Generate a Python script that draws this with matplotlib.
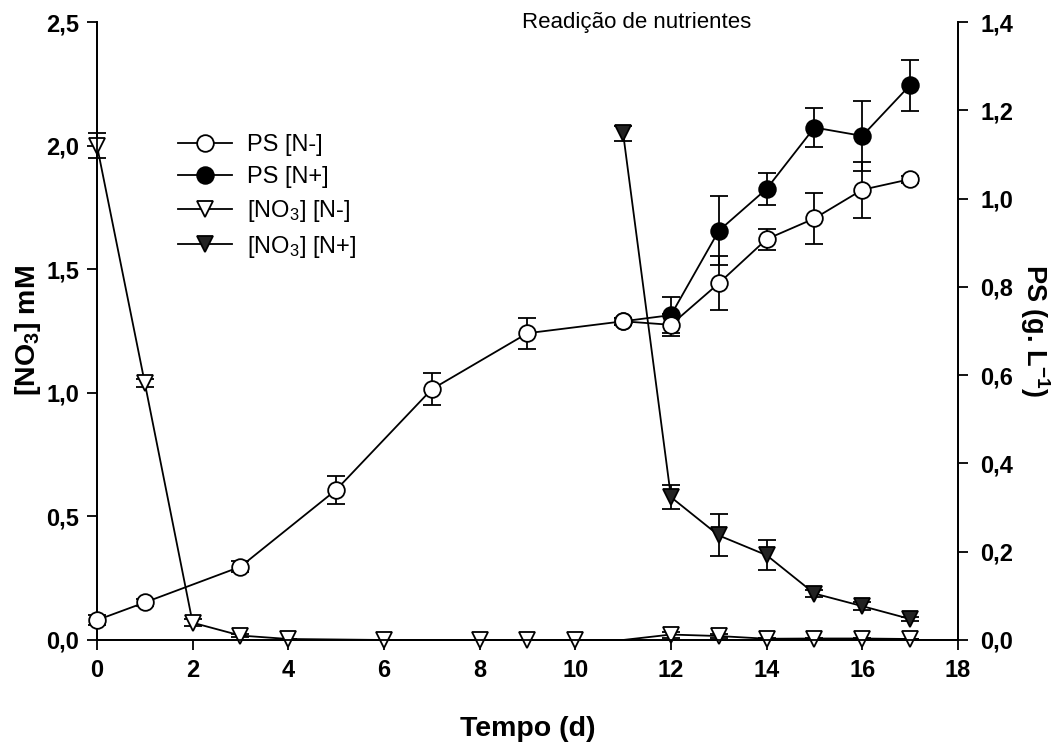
import matplotlib.pyplot as plt
from matplotlib.ticker import FuncFormatter

plt.rcParams['font.family'] = ['Liberation Sans', 'DejaVu Sans']
plt.rcParams['mathtext.default'] = 'regular'

# PS (g/L), right axis
dias_ps = [0, 1, 3, 5, 7, 9, 11, 12, 13, 14, 15, 16, 17]
ps_nmenos = [0.045, 0.085, 0.166, 0.34, 0.568, 0.695, 0.722, 0.714, 0.808, 0.908, 0.955, 1.02, 1.044]
ps_nmenos_err = [0.012, 0.008, 0.012, 0.032, 0.036, 0.035, 0.008, 0.025, 0.061, 0.024, 0.057, 0.063, 0.008]

dias_ps_mais = [11, 12, 13, 14, 15, 16, 17]
ps_nmais = [0.722, 0.736, 0.927, 1.022, 1.161, 1.142, 1.257]
ps_nmais_err = [0.008, 0.04, 0.078, 0.036, 0.045, 0.079, 0.058]

# [NO3] mM, left axis
dias_no3 = [0, 1, 2, 3, 4, 6, 8, 9, 10, 11, 12, 13, 14, 15, 16, 17]
no3_nmenos = [2.0, 1.04, 0.07, 0.018, 0.004, 0.0, 0.0, 0.0, 0.0, 0.0, 0.022, 0.016, 0.005, 0.006, 0.006, 0.004]
no3_nmenos_err = [0.05, 0.015, 0.015, 0.005, 0.002, 0, 0, 0, 0, 0, 0.012, 0.008, 0.003, 0.003, 0.003, 0.002]

dias_no3_mais = [11, 12, 13, 14, 15, 16, 17]
no3_nmais = [2.05, 0.578, 0.423, 0.343, 0.188, 0.137, 0.085]
no3_nmais_err = [0.03, 0.05, 0.085, 0.06, 0.015, 0.015, 0.01]

fig = plt.figure(figsize=(10.62, 7.44), dpi=100)
ax = fig.add_axes([0.0913, 0.1398, 0.8107, 0.8306])
ax2 = ax.twinx()

eb = dict(color='black', lw=1.3, capsize=6.5, capthick=1.3, elinewidth=1.3)


def sem_clip(res):
    for art in [res[0]] + list(res[1]) + list(res[2]):
        art.set_clip_on(False)


# nitrate on the left axis
sem_clip(ax.errorbar(dias_no3, no3_nmenos, yerr=no3_nmenos_err, marker='v', ms=11,
                     mfc='white', mec='black', mew=1.3,
                     markevery=[i for i in range(len(dias_no3)) if dias_no3[i] != 11],
                     zorder=3, **eb))
sem_clip(ax.errorbar(dias_no3_mais, no3_nmais, yerr=no3_nmais_err, marker='v', ms=11,
                     mfc='#222222', mec='black', mew=1.3, zorder=3, **eb))

# dry weight on the right axis
sem_clip(ax2.errorbar(dias_ps_mais, ps_nmais, yerr=ps_nmais_err, marker='o', ms=12,
                      mfc='black', mec='black', mew=1.3, zorder=3, **eb))
sem_clip(ax2.errorbar(dias_ps, ps_nmenos, yerr=ps_nmenos_err, marker='o', ms=12,
                      mfc='white', mec='black', mew=1.3, zorder=4, **eb))

ax.set_xlim(0, 18)
ax.set_ylim(0, 2.5)
ax2.set_ylim(0, 1.4)
ax.set_xticks(range(0, 19, 2))
ax.set_yticks([0, 0.5, 1.0, 1.5, 2.0, 2.5])
ax2.set_yticks([0, 0.2, 0.4, 0.6, 0.8, 1.0, 1.2, 1.4])

virgula = FuncFormatter(lambda v, p: ('%.1f' % v).replace('.', ','))
ax.yaxis.set_major_formatter(virgula)
ax2.yaxis.set_major_formatter(virgula)

for a in (ax, ax2):
    a.spines['top'].set_visible(False)
    for s in a.spines.values():
        s.set_linewidth(1.3)
    a.tick_params(direction='out', length=7, width=1.3, labelsize=17, pad=6)
    for lab in a.get_xticklabels() + a.get_yticklabels():
        lab.set_fontweight('bold')
ax.tick_params(axis='x', pad=7)
ax2.tick_params(axis='y', pad=9)

ax.set_xlabel('Tempo (d)', fontsize=20.5, fontweight='bold', labelpad=24)
ax.set_ylabel('[NO$_3$] mM', fontsize=20.5, fontweight='bold', labelpad=2)
ax2.set_ylabel('PS (g. L$^{-1}$)', fontsize=19.5, fontweight='bold', rotation=270, labelpad=28)

ax.text(11.28, 2.50, 'Readição de nutrientes', fontsize=16, ha='center', va='center',
        clip_on=False)

# legend
h1 = ax.errorbar([], [], marker='o', ms=12, mfc='white', mec='black', mew=1.3, color='black', lw=1.3)
h2 = ax.errorbar([], [], marker='o', ms=12, mfc='black', mec='black', mew=1.3, color='black', lw=1.3)
h3 = ax.errorbar([], [], marker='v', ms=11, mfc='white', mec='black', mew=1.3, color='black', lw=1.3)
h4 = ax.errorbar([], [], marker='v', ms=11, mfc='#222222', mec='black', mew=1.3, color='black', lw=1.3)
ax.legend([h1, h2, h3, h4], ['PS [N-]', 'PS [N+]', '[NO$_3$] [N-]', '[NO$_3$] [N+]'],
          loc='upper left', bbox_to_anchor=(0.08, 0.838), frameon=False, fontsize=17,
          handlelength=2.3, handletextpad=0.65, labelspacing=0.42, borderpad=0)

fig.savefig('out.png', dpi=100)
